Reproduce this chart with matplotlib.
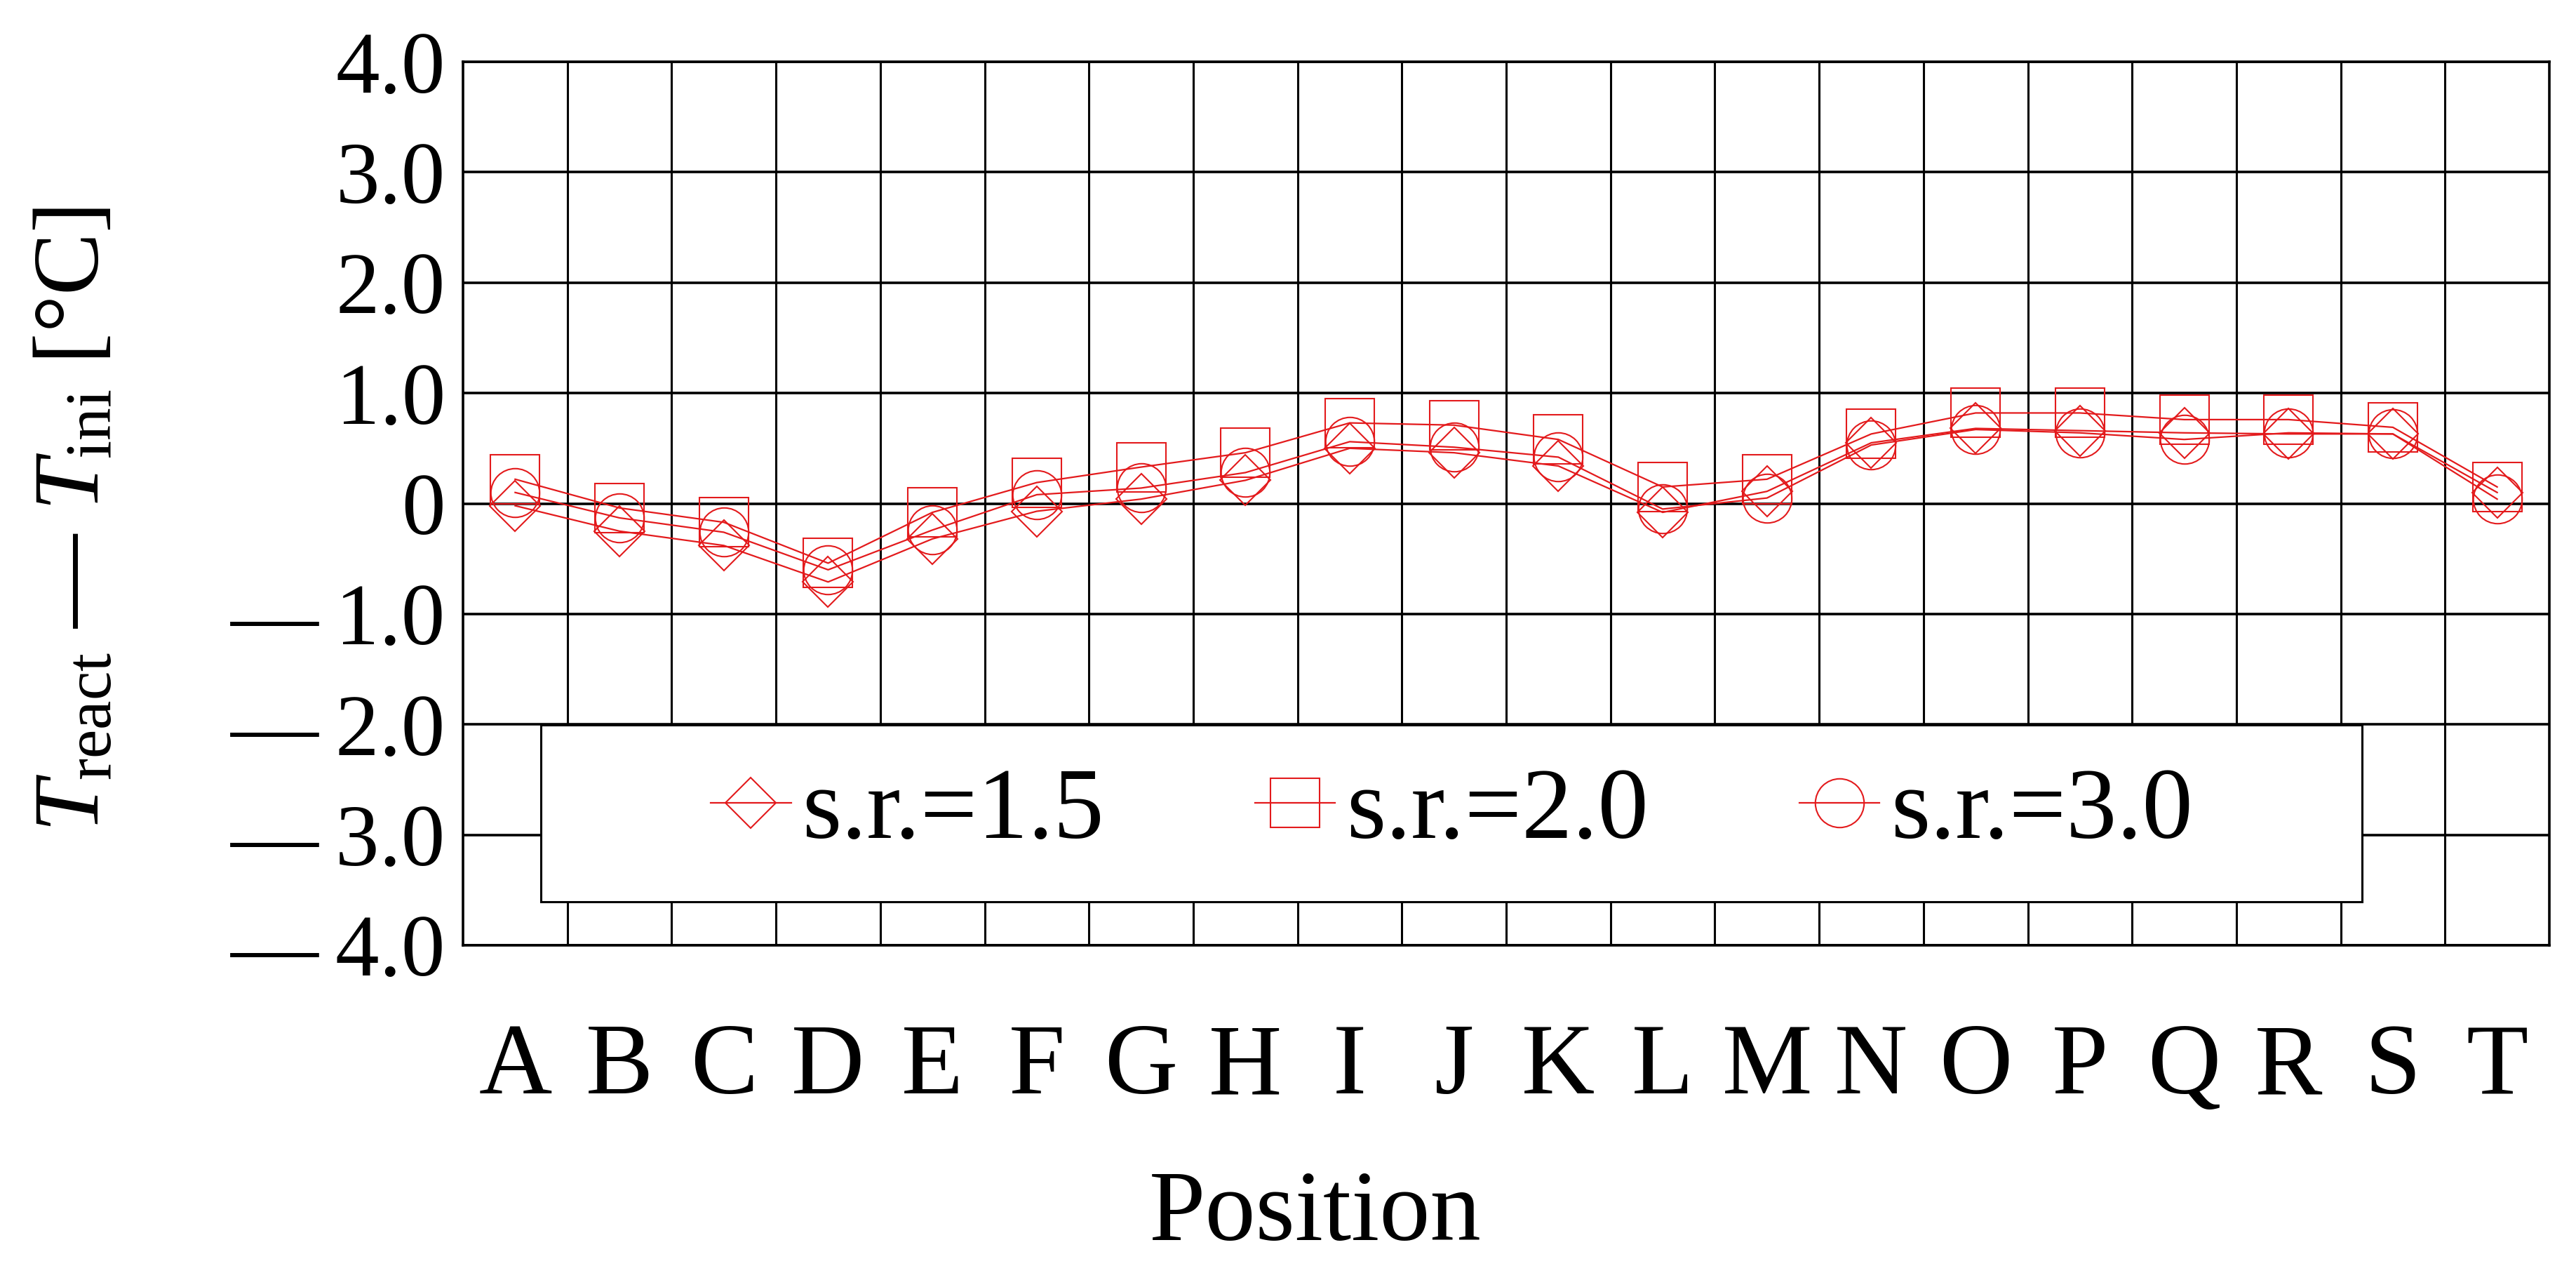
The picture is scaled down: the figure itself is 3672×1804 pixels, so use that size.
import matplotlib
matplotlib.use('Agg')
import matplotlib.pyplot as plt
from matplotlib.patches import Rectangle

# Times風のフォント設定
plt.rcParams['font.family'] = ['Liberation Serif', 'DejaVu Serif']
plt.rcParams['mathtext.fontset'] = 'custom'
plt.rcParams['mathtext.rm'] = 'Liberation Serif'
plt.rcParams['mathtext.it'] = 'Liberation Serif:italic'

# データ
positions = list('ABCDEFGHIJKLMNOPQRST')
sr_15 = [-0.02, -0.25, -0.38, -0.71, -0.32, -0.07, 0.04, 0.21, 0.50, 0.46,
         0.34, -0.08, 0.11, 0.55, 0.68, 0.66, 0.64, 0.63, 0.63, 0.10]
sr_20 = [0.22, -0.04, -0.17, -0.54, -0.08, 0.19, 0.33, 0.46, 0.73, 0.71,
         0.58, 0.15, 0.22, 0.63, 0.82, 0.82, 0.76, 0.76, 0.69, 0.15]
sr_30 = [0.10, -0.13, -0.26, -0.60, -0.24, 0.08, 0.14, 0.28, 0.56, 0.51,
         0.42, -0.05, 0.05, 0.53, 0.67, 0.64, 0.58, 0.64, 0.63, 0.04]
series_labels = ['s.r.=1.5', 's.r.=2.0', 's.r.=3.0']
y_ticks = [-4, -3, -2, -1, 0, 1, 2, 3, 4]
y_tick_labels = ['\u2014\u20094.0', '\u2014\u20093.0', '\u2014\u20092.0',
                 '\u2014\u20091.0', '0', '1.0', '2.0', '3.0', '4.0']

W, H = 3672, 1804
fig = plt.figure(figsize=(W / 100, H / 100), dpi=100)
ax = fig.add_axes([660 / W, 1 - 1347 / H, 2974 / W, 1259 / H])

red = '#e31a1c'
x = list(range(len(positions)))
styles = [('D', 37), ('s', 50), ('o', 50)]
for vals, lab, (mk, ms) in zip([sr_15, sr_20, sr_30], series_labels, styles):
    ax.plot(x, vals, color=red, lw=1.6, marker=mk, ms=ms, mfc='none',
            mec=red, mew=1.5, label=lab, zorder=3)

ax.set_xlim(-0.5, len(positions) - 0.5)
ax.set_ylim(-4, 4)
ax.set_xticks(x)
ax.set_xticklabels(positions, fontsize=104)
ax.set_xticks([i + 0.5 for i in x[:-1]], minor=True)
ax.set_yticks(y_ticks)
ax.set_yticklabels(y_tick_labels, fontsize=90)
ax.tick_params(axis='both', which='both', length=0)
ax.tick_params(axis='x', pad=80)
ax.tick_params(axis='y', pad=18)
ax.grid(True, axis='y', which='major', color='black', lw=2.6)
ax.grid(True, axis='x', which='minor', color='black', lw=2.2)
for s in ax.spines.values():
    s.set_linewidth(2.6)

# 凡例の枠
box = Rectangle((0.0373, 0.0492), 0.8729, 0.2002, transform=ax.transAxes,
                facecolor='white', edgecolor='black', lw=2.2, zorder=4)
ax.add_patch(box)
leg = ax.legend(loc='center', bbox_to_anchor=(0.474, 0.1493), ncol=3,
                frameon=False, fontsize=104, handlelength=0.79,
                handletextpad=0.11, columnspacing=1.49, borderpad=0,
                numpoints=1)
leg.set_zorder(5)

fig.text(108 / W, 1 - 740 / H,
         r'$T_{\mathrm{react}}$ ' + '\u2014' + r' $T_{\mathrm{ini}}$ [°C]',
         rotation=90, ha='center', va='center', fontsize=96)
fig.text(1875 / W, 1 - 1767 / H, 'Position', ha='center', va='baseline',
         fontsize=104)

fig.savefig('out.png', dpi=100)
